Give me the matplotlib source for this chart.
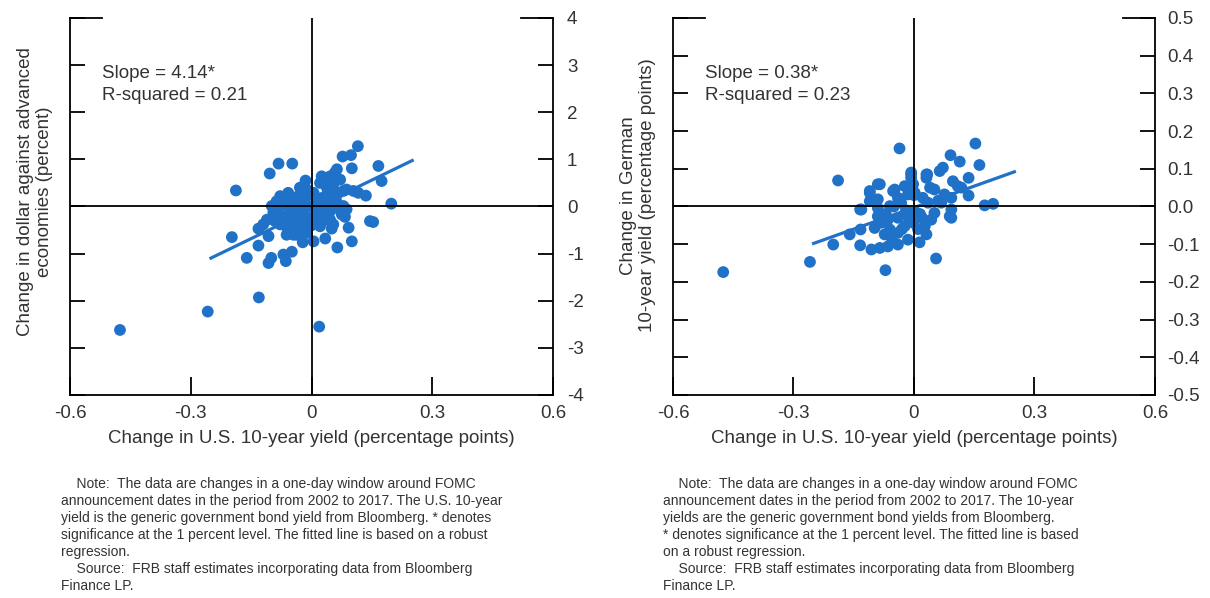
#!/usr/bin/env python3
import numpy as np
import matplotlib.pyplot as plt

plt.rcParams['font.family'] = ['Liberation Sans', 'DejaVu Sans']

# Left panel: change in U.S. 10-year yield vs change in dollar (percent)
us_x_left = [
    -0.476, -0.258, -0.131, 0.019, -0.188, -0.198, -0.104, -0.082, -0.048,
    0.115, 0.077, 0.098, 0.100, 0.166, 0.174, 0.198, 0.145, 0.153, 0.135,
    0.092, 0.100, 0.064, 0.034, 0.005, 0.050, -0.132, -0.132, -0.107,
    -0.161, -0.107, -0.100, -0.064, -0.070, -0.049, -0.022, -0.045,
    0.063, 0.029, 0.021, 0.038, 0.054, 0.067, 0.079, 0.104, 0.116, 0.087,
    -0.029, -0.058, -0.078, -0.087, -0.082, -0.053, -0.033, -0.012, 0.005,
    0.013, 0.025, 0.042, 0.063, 0.079, 0.087, 0.075, 0.083, 0.046, 0.054,
    0.029, 0.038, 0.013, -0.008, -0.020, -0.037, -0.053, -0.070, -0.095,
    -0.091, -0.078, -0.053, -0.045, -0.029, -0.062, -0.037, -0.012, -0.004,
    0.005, 0.021, -0.099, -0.070, -0.045, -0.024, -0.012, 0.046, 0.058,
    0.025, 0.071, 0.063, 0.046, -0.111, -0.120, 0.010, -0.015, 0.033,
    0.020, -0.030, 0.000, 0.030, -0.060, 0.060, -0.015, 0.040, -0.050, 0.010,
]
dollar_y = [
    -2.62, -2.23, -1.93, -2.55, 0.34, -0.65, 0.70, 0.91, 0.91,
    1.28, 1.06, 1.09, 0.81, 0.86, 0.54, 0.06, -0.31, -0.33, 0.23,
    -0.45, -0.74, -0.87, -0.68, -0.74, -0.47, -0.47, -0.83, -0.63,
    -1.09, -1.20, -1.09, -1.16, -1.02, -0.96, -0.76, -0.60,
    0.79, 0.61, 0.50, 0.40, 0.47, 0.29, 0.33, 0.33, 0.29, 0.36,
    0.40, 0.29, 0.22, 0.11, -0.06, 0.15, 0.22, 0.22, 0.29,
    0.11, 0.18, 0.11, 0.08, 0.01, -0.06, -0.17, -0.22, -0.28, -0.38,
    -0.13, -0.22, -0.06, 0.01, -0.13, -0.06, -0.13, -0.21, -0.13,
    -0.31, -0.38, -0.35, -0.49, -0.42, -0.60, -0.60, -0.56, -0.35,
    -0.22, -0.42, 0.01, 0.04, 0.01, 0.11, 0.36, 0.64, 0.72,
    0.64, 0.57, -0.03, -0.10, -0.28, -0.38, -0.30, -0.25, -0.05,
    0.05, -0.25, -0.40, -0.30, -0.45, 0.20, 0.55, 0.30, -0.10, -0.15,
]

# Right panel: change in U.S. 10-year yield vs change in German 10-year yield
us_x_right = [
    -0.475, -0.259, -0.189, -0.036, -0.071, 0.055, 0.153, 0.091, 0.114,
    0.163, 0.072, 0.064, 0.136, 0.176, 0.197, 0.136, 0.093, -0.201,
    -0.160, -0.134, -0.133, -0.134, -0.106, -0.090, -0.110, 0.033, -0.007,
    0.031, -0.007, 0.097, 0.109, 0.118, 0.051, 0.076, 0.093, 0.068, 0.093,
    0.089, 0.051, 0.043, 0.027, 0.031, 0.014, -0.015, -0.040, -0.065,
    -0.085, -0.040, -0.060, -0.023, -0.081, -0.090, -0.065, -0.040,
    -0.015, 0.006, -0.002, -0.090, -0.060, -0.032, -0.040, -0.015, -0.023,
    -0.002, 0.002, 0.022, 0.035, -0.052, -0.048, -0.085, -0.110, -0.090,
    -0.110, -0.131, -0.098, -0.073, -0.056, -0.007, 0.031, 0.015, 0.060,
    -0.020, 0.020, -0.050, 0.000, -0.030, 0.040, -0.070, 0.010,
]
german_y = [
    -0.174, -0.147, 0.069, 0.154, -0.169, -0.138, 0.167, 0.136, 0.119,
    0.110, 0.103, 0.094, 0.076, 0.003, 0.007, 0.029, -0.030, -0.101,
    -0.074, -0.103, -0.061, -0.008, -0.114, 0.059, 0.036, 0.085, 0.085,
    0.085, 0.090, 0.067, 0.054, 0.050, 0.045, 0.032, 0.023, 0.010, -0.008,
    -0.026, -0.017, -0.035, -0.052, -0.074, -0.095, -0.088, -0.101, -0.106,
    -0.110, -0.070, -0.061, -0.052, -0.043, -0.026, -0.035, -0.030,
    -0.026, -0.017, -0.043, -0.004, 0.001, 0.010, 0.023, 0.032, 0.054,
    0.059, 0.036, 0.023, 0.010, 0.041, 0.045, 0.059, 0.041, 0.019,
    0.014, -0.008, -0.057, -0.074, -0.083, 0.076, 0.076, -0.020, 0.015,
    -0.010, -0.030, 0.000, 0.030, -0.060, 0.050, -0.020, -0.060,
]

# Robust regression fits
slope_left, intercept_left = 4.14, -0.06
slope_right, intercept_right = 0.38, -0.003
fit_range = [-0.25, 0.25]

xticks = [-0.6, -0.3, 0, 0.3, 0.6]
xtick_labels = ['-0.6', '-0.3', '0', '0.3', '0.6']
yticks_left = [-4, -3, -2, -1, 0, 1, 2, 3, 4]
yticks_right = [-0.5, -0.4, -0.3, -0.2, -0.1, 0.0, 0.1, 0.2, 0.3, 0.4, 0.5]

note_left = ("    Note:  The data are changes in a one-day window around FOMC\n"
             "announcement dates in the period from 2002 to 2017. The U.S. 10-year\n"
             "yield is the generic government bond yield from Bloomberg. * denotes\n"
             "significance at the 1 percent level. The fitted line is based on a robust\n"
             "regression.\n"
             "    Source:  FRB staff estimates incorporating data from Bloomberg\n"
             "Finance LP.")
note_right = ("    Note:  The data are changes in a one-day window around FOMC\n"
              "announcement dates in the period from 2002 to 2017. The 10-year\n"
              "yields are the generic government bond yields from Bloomberg.\n"
              "* denotes significance at the 1 percent level. The fitted line is based\n"
              "on a robust regression.\n"
              "    Source:  FRB staff estimates incorporating data from Bloomberg\n"
              "Finance LP.")

dot_color = '#1f72c8'
text_color = '#333333'

fig = plt.figure(figsize=(12.1, 5.98), dpi=100)
ax1 = fig.add_axes([0.0579, 0.3395, 0.3992, 0.6304])
ax2 = fig.add_axes([0.5562, 0.3395, 0.3983, 0.6304])

panels = [
    (ax1, us_x_left, dollar_y, slope_left, intercept_left, (-4, 4), yticks_left,
     [str(t) for t in yticks_left],
     'Change in dollar against advanced\neconomies (percent)', -0.035, 0.54,
     'Slope = 4.14*\nR-squared = 0.21', 10),
    (ax2, us_x_right, german_y, slope_right, intercept_right, (-0.5, 0.5), yticks_right,
     ['%.1f' % t for t in yticks_right],
     'Change in German\n10-year yield (percentage points)', -0.035, 0.53,
     'Slope = 0.38*\nR-squared = 0.23', 9),
]

for (ax, xs, ys, slope, icpt, ylim, yt, ytl, ylab, lx, ly, stats, rpad) in panels:
    ax.scatter(xs, ys, s=72, color=dot_color, edgecolors='none', zorder=2)
    fx = np.array(fit_range)
    ax.plot(fx, icpt + slope * fx, color=dot_color, lw=2.3, zorder=3)
    ax.axhline(0, color='black', lw=1.3, zorder=4)
    ax.axvline(0, color='black', lw=1.3, zorder=4)

    ax.set_xlim(-0.6, 0.6)
    ax.set_ylim(*ylim)
    ax.set_xticks(xticks)
    ax.set_xticklabels(xtick_labels)
    ax.set_yticks(yt)
    ax.set_yticklabels(ytl)

    ax.spines['top'].set_visible(False)
    for s in ['left', 'right', 'bottom']:
        ax.spines[s].set_linewidth(1.3)
    # short top corner segments
    ax.plot([0, 0.066], [1, 1], color='black', lw=1.3, transform=ax.transAxes, clip_on=False)
    ax.plot([0.934, 1], [1, 1], color='black', lw=1.3, transform=ax.transAxes, clip_on=False)

    ax.tick_params(axis='y', direction='in', length=11, width=1.3, left=True, right=True,
                   labelleft=False, labelright=True, labelsize=13.5, labelcolor=text_color,
                   pad=rpad)
    ax.tick_params(axis='x', direction='in', length=13, width=1.3, labelsize=13.5,
                   labelcolor=text_color, pad=7)

    ax.set_xlabel('Change in U.S. 10-year yield (percentage points)', fontsize=13.5,
                  color=text_color, labelpad=6)
    ax.set_ylabel(ylab, fontsize=13.5, color=text_color, linespacing=1.2)
    ax.yaxis.set_label_coords(lx, ly)

    ax.text(0.066, 0.876, stats, transform=ax.transAxes, fontsize=13.5,
            color=text_color, va='top', ha='left', linespacing=1.4)

fig.text(61 / 1210, 1 - 477 / 598, note_left, fontsize=10, color=text_color,
         va='top', ha='left', linespacing=1.27)
fig.text(663 / 1210, 1 - 477 / 598, note_right, fontsize=10, color=text_color,
         va='top', ha='left', linespacing=1.27)

fig.savefig('out.png', dpi=100, facecolor='white')
